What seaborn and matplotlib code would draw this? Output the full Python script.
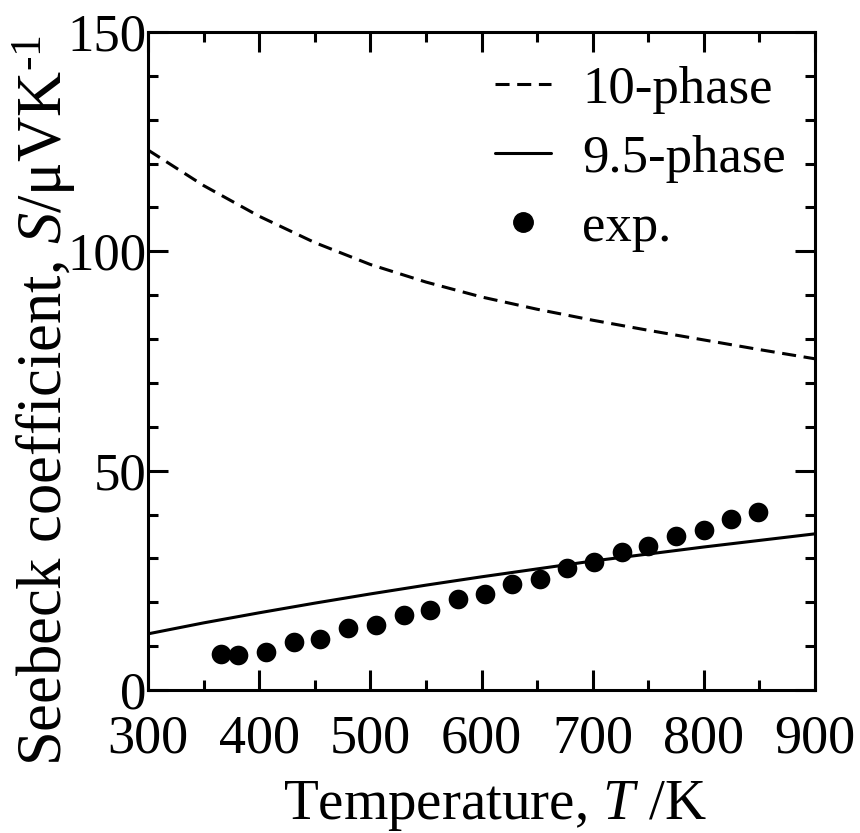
import numpy as np
import pandas as pd
import matplotlib
matplotlib.use("Agg")
import matplotlib.pyplot as plt
from matplotlib.ticker import MultipleLocator
from matplotlib.lines import Line2D
import seaborn as sns

# ---- data ----
temp_calc = [300, 350, 400, 450, 500, 550, 600, 650, 700, 750, 800, 850, 900]
s_10phase = [123.1, 115.0, 108.0, 102.0, 97.0, 93.0, 89.6, 86.8, 84.3, 82.0, 79.8, 77.6, 75.5]
s_95phase = [12.8, 15.3, 17.6, 19.8, 21.9, 23.9, 25.8, 27.6, 29.4, 31.0, 32.6, 34.1, 35.6]

temp_exp = [366, 381, 406, 431, 455, 480, 505, 530, 554, 579, 603, 627,
            653, 677, 701, 726, 750, 775, 800, 824, 849]
s_exp = [8.2, 8.0, 8.6, 10.9, 11.7, 14.2, 14.9, 17.2, 18.2, 20.7, 21.8, 24.2,
         25.4, 27.7, 29.2, 31.5, 32.8, 35.1, 36.5, 39.0, 40.6]

legend_labels = ["10-phase", "9.5-phase", "exp."]
x_ticks = [300, 400, 500, 600, 700, 800, 900]
y_ticks = [0, 50, 100, 150]

# ---- style ----
sns.set_theme(style="ticks")
plt.rcParams["font.family"] = ["Liberation Serif", "DejaVu Serif"]
plt.rcParams["mathtext.fontset"] = "custom"
plt.rcParams["mathtext.rm"] = "Liberation Serif"
plt.rcParams["mathtext.it"] = "Liberation Serif:italic"
for key in ["text.color", "axes.labelcolor", "xtick.color", "ytick.color",
            "axes.edgecolor"]:
    plt.rcParams[key] = "black"

fig = plt.figure(figsize=(8.6, 8.33), dpi=100)
ax = fig.add_axes([148 / 860, 1 - 690 / 833, (815 - 148) / 860, (690 - 32) / 833])

df_calc = pd.DataFrame({"T": temp_calc, "s10": s_10phase, "s95": s_95phase})
df_exp = pd.DataFrame({"T": temp_exp, "S": s_exp})

lw = 2.2
dash = (0, (4.6, 2.5))
sns.lineplot(data=df_calc, x="T", y="s10", ax=ax, color="black", lw=lw,
             linestyle=dash)
sns.lineplot(data=df_calc, x="T", y="s95", ax=ax, color="black", lw=lw)
sns.scatterplot(data=df_exp, x="T", y="S", ax=ax, color="black", s=200,
                edgecolor="black", linewidth=0, zorder=3)

ax.set_xlim(300, 900)
ax.set_ylim(0, 150)
ax.set_xticks(x_ticks)
ax.set_yticks(y_ticks)
ax.xaxis.set_minor_locator(MultipleLocator(50))
ax.yaxis.set_minor_locator(MultipleLocator(10))

for sp in ax.spines.values():
    sp.set_linewidth(2.2)
    sp.set_color("black")

ax.tick_params(which="both", direction="in", top=True, right=True,
               width=2.2, colors="black", labelcolor="black")
ax.tick_params(which="major", length=14.4)
ax.tick_params(which="minor", length=7.2)
ax.tick_params(axis="x", which="major", labelsize=39, pad=17)
ax.tick_params(axis="y", which="major", labelsize=38, pad=1)

ax.set_xlabel("Temperature, $T$ /K", fontsize=41)
ax.set_ylabel("Seebeck coefficient, $S$/\u03bcVK$^{\u20101}$", fontsize=45)
ax.yaxis.set_label_coords(-0.105, 0.44)
ax.xaxis.set_label_coords(0.52, -0.136)

handles = [
    Line2D([], [], color="black", lw=lw, linestyle=dash),
    Line2D([], [], color="black", lw=lw),
    Line2D([], [], color="black", marker="o", markersize=14, linestyle="none"),
]
ax.legend(handles, legend_labels, loc="upper right", frameon=False,
          fontsize=38, handlelength=1.05, handletextpad=0.6,
          labelspacing=0.4, borderaxespad=0.3,
          bbox_to_anchor=(1.012, 1.005))

fig.savefig("out.png", dpi=100)
